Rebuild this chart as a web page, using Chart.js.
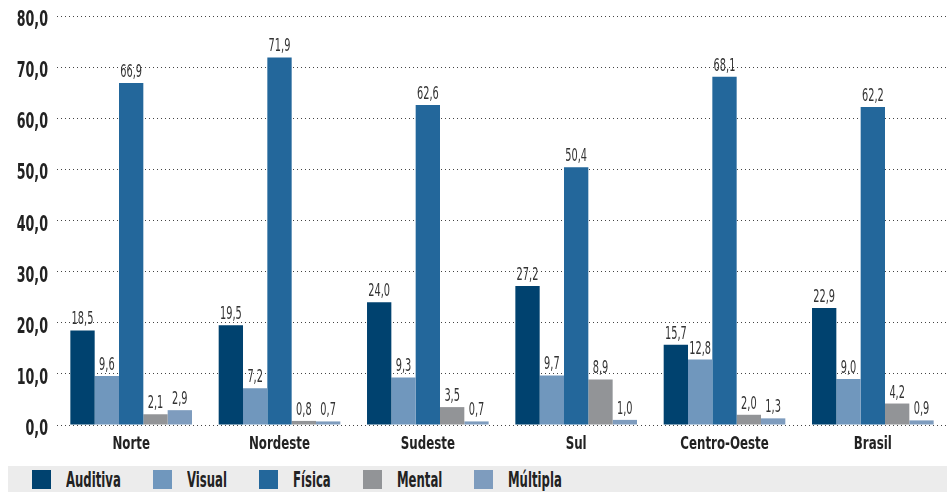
<!DOCTYPE html>
<html>
<head>
<meta charset="utf-8">
<script src="https://cdn.jsdelivr.net/npm/chart.js@4"></script>
<style>
  body { margin: 0; background: #fff; }
  #wrap { position: relative; width: 947px; height: 466px; }
  #legend {
    position: absolute; left: 8px; top: 466px; width: 939px; height: 26px;
    background: #ececec; display: flex; align-items: center;
    font-family: 'DejaVu Sans Condensed', 'Liberation Sans Narrow', sans-serif;
    font-weight: bold; font-size: 22px; color: #222;
  }
  .item { display: flex; align-items: center; margin-right: 32px; }
  .item:first-child { margin-left: 24px; }
  .box { width: 19px; height: 19px; margin-right: 15px; flex: none; }
  .txt { display: inline-block; overflow: visible; white-space: nowrap; }
  .txt span { display: inline-block; transform: scaleX(0.59); transform-origin: left center; }
</style>
</head>
<body>
<div id="wrap"><canvas id="chart" width="947" height="466"></canvas></div>
<div id="legend"></div>
<script>
const FONT = "'DejaVu Sans Condensed', 'Liberation Sans Narrow', sans-serif";

const regions = ['Norte', 'Nordeste', 'Sudeste', 'Sul', 'Centro-Oeste', 'Brasil'];
const seriesNames = ['Auditiva', 'Visual', 'Física', 'Mental', 'Múltipla'];
const seriesColors = ['#00426f', '#7097bd', '#23679b', '#929497', '#7e9cbe'];

const auditiva = [18.5, 19.5, 24.0, 27.2, 15.7, 22.9];
const visual   = [9.6, 7.2, 9.3, 9.7, 12.8, 9.0];
const fisica   = [66.9, 71.9, 62.6, 50.4, 68.1, 62.2];
const mental   = [2.1, 0.8, 3.5, 8.9, 2.0, 4.2];
const multipla = [2.9, 0.7, 0.7, 1.0, 1.3, 0.9];

const yMax = 80;
const yStep = 10;

const fmt = v => v.toFixed(1).replace('.', ',');

const seriesData = [auditiva, visual, fisica, mental, multipla];

// the original uses a very narrow font, so squeeze the text horizontally
function narrowText(ctx, text, x, y, sx) {
  ctx.save();
  ctx.translate(x, y);
  ctx.scale(sx, 1);
  ctx.fillText(text, 0, 0);
  ctx.restore();
}

// axis labels, taken from the scales' own ticks
const axisLabels = {
  id: 'axisLabels',
  afterDraw(chart) {
    const ctx = chart.ctx;
    const xs = chart.scales.x, ys = chart.scales.y;
    ctx.save();
    ctx.fillStyle = '#222';
    ctx.textBaseline = 'alphabetic';

    ctx.font = 'bold 22px ' + FONT;
    ctx.textAlign = 'right';
    ys.ticks.forEach((t, i) => {
      narrowText(ctx, fmt(t.value), ys.right - 9, ys.getPixelForTick(i) + 10, 0.64);
    });

    ctx.font = 'bold 18px ' + FONT;
    ctx.textAlign = 'center';
    xs.ticks.forEach((t, i) => {
      narrowText(ctx, chart.data.labels[t.value], xs.getPixelForTick(i), xs.top + 24, 0.73);
    });
    ctx.restore();
  }
};

// value labels on top of every bar
const barLabels = {
  id: 'barLabels',
  afterDatasetsDraw(chart) {
    const ctx = chart.ctx;
    ctx.save();
    ctx.font = '17px ' + FONT;
    ctx.fillStyle = '#333';
    ctx.textAlign = 'center';
    ctx.textBaseline = 'alphabetic';
    chart.data.datasets.forEach((ds, i) => {
      chart.getDatasetMeta(i).data.forEach((bar, j) => {
        narrowText(ctx, fmt(ds.data[j]), bar.x, bar.y - 6, 0.64);
      });
    });
    ctx.restore();
  }
};

new Chart(document.getElementById('chart'), {
  type: 'bar',
  data: {
    labels: regions,
    datasets: seriesNames.map((name, i) => ({
      label: name,
      data: seriesData[i],
      backgroundColor: seriesColors[i],
      borderWidth: 0,
      categoryPercentage: 0.82,
      barPercentage: 1.0
    }))
  },
  options: {
    responsive: false,
    animation: false,
    layout: { padding: { top: 16, right: 0, left: 0, bottom: 0 } },
    plugins: { legend: { display: false }, tooltip: { enabled: false } },
    scales: {
      x: {
        grid: { display: false },
        border: { display: false },
        ticks: { display: false },
        afterFit(scale) { scale.height = 41; }
      },
      y: {
        min: 0,
        max: yMax,
        grid: { color: '#444', lineWidth: 1, drawTicks: false },
        border: { display: false, dash: [1, 3] },
        ticks: { display: false, stepSize: yStep },
        afterFit(scale) { scale.width = 57; }
      }
    }
  },
  plugins: [barLabels, axisLabels]
});

// legend
const legend = document.getElementById('legend');
seriesNames.forEach((name, i) => {
  const item = document.createElement('div');
  item.className = 'item';
  item.innerHTML = '<div class="box" style="background:' + seriesColors[i] + '"></div>' +
    '<div class="txt"><span>' + name + '</span></div>';
  legend.appendChild(item);
  const txt = item.querySelector('.txt');
  txt.style.width = (txt.firstChild.offsetWidth * 0.59) + 'px';
});
</script>
</body>
</html>
